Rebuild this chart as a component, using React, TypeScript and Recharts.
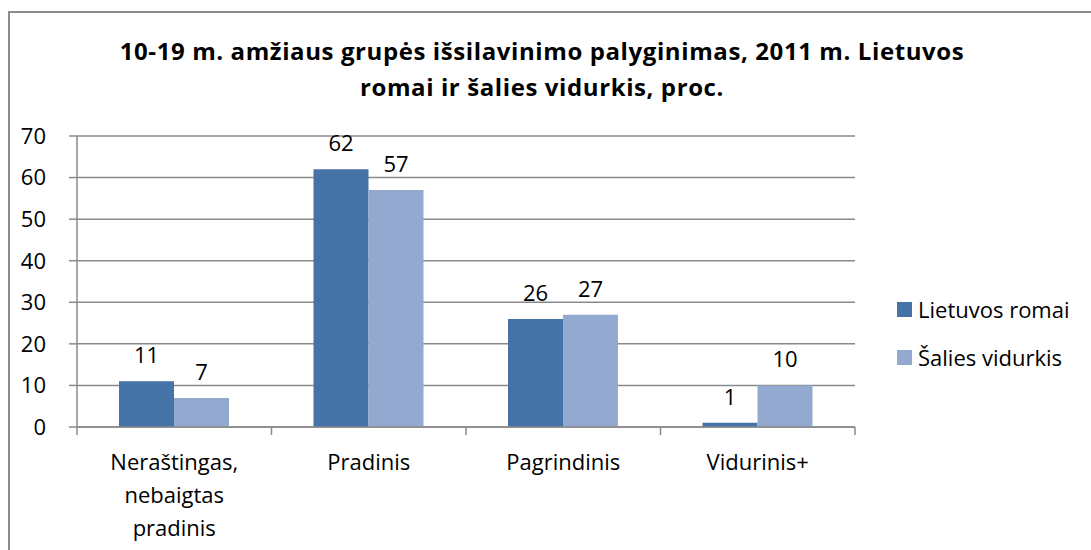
import { Bar, BarChart, CartesianGrid, LabelList, XAxis, YAxis } from 'recharts'

const categories = ['Neraštingas,\nnebaigtas\npradinis', 'Pradinis', 'Pagrindinis', 'Vidurinis+']
const romai = [11, 62, 26, 1]
const vidurkis = [7, 57, 27, 10]
const yTicks = [0, 10, 20, 30, 40, 50, 60, 70]
const titleLines = ['10-19 m. amžiaus grupės išsilavinimo palyginimas, 2011 m. Lietuvos', 'romai ir šalies vidurkis, proc.']

const SERIES = [
  { key: 'romai', name: 'Lietuvos romai', color: '#4572A7' },
  { key: 'vidurkis', name: 'Šalies vidurkis', color: '#93A9CF' },
]

const data = categories.map((c, i) => ({ cat: c, romai: romai[i], vidurkis: vidurkis[i] }))

const FONT = '"Open Sans", sans-serif'
const GRID = '#8a8a8a'

// category axis: Excel-style tick marks sit between categories, not under them
function CatTick(props: any) {
  const { x, y, payload, index } = props
  const half = payload.offset ?? 0
  const lines = String(payload.value).split('\n')
  return (
    <g>
      <line x1={x - half} x2={x - half} y1={y} y2={y + 8} stroke={GRID} strokeWidth={1.5} />
      {index === categories.length - 1 && (
        <line x1={x + half} x2={x + half} y1={y} y2={y + 8} stroke={GRID} strokeWidth={1.5} />
      )}
      {lines.map((l, i) => (
        <text key={i} x={x} y={y + 43 + i * 33} textAnchor="middle" fontSize={22} fill="#000" fontFamily={FONT}>
          {l}
        </text>
      ))}
    </g>
  )
}

export default function App() {
  return (
    <div style={{ position: 'absolute', left: 0, top: 0, width: 1091, height: 550, overflow: 'hidden', background: '#fff' }}>
      <div
        style={{
          position: 'absolute',
          left: 8,
          top: 11,
          width: 1100,
          height: 600,
          border: '2px solid #8c8c8c',
          boxSizing: 'border-box',
        }}
      />
      <svg width={1091} height={120} style={{ position: 'absolute', left: 0, top: 0 }}>
        {titleLines.map((t, i) => (
          <text
            key={i}
            x={542}
            y={60 + i * 36}
            textAnchor="middle"
            fontFamily={FONT}
            fontWeight={700}
            fontSize={24}
            letterSpacing={0.6}
            fill="#000"
          >
            {t}
          </text>
        ))}
      </svg>
      <div style={{ position: 'absolute', left: 897, top: 285, fontFamily: FONT, fontSize: 22, color: '#000' }}>
        {SERIES.map((s) => (
          <div key={s.key} style={{ display: 'flex', alignItems: 'center', height: 48, whiteSpace: 'nowrap' }}>
            <span style={{ width: 15, height: 15, background: s.color, marginRight: 6, display: 'inline-block' }} />
            {s.name}
          </div>
        ))}
      </div>
      <div style={{ position: 'absolute', left: 0, top: 0 }}>
        <BarChart
          width={1091}
          height={550}
          data={data}
          margin={{ top: 136, right: 236, left: 17, bottom: 0 }}
          barCategoryGap={42}
          barGap={0}
        >
          <CartesianGrid vertical={false} stroke={GRID} strokeWidth={1.5} />
          <XAxis
            dataKey="cat"
            height={123}
            interval={0}
            tickSize={0}
            tickMargin={0}
            tickLine={false}
            axisLine={{ stroke: GRID, strokeWidth: 1.5 }}
            tick={<CatTick />}
          />
          <YAxis
            width={60}
            domain={[0, 70]}
            ticks={yTicks}
            interval={0}
            tickSize={8}
            tickMargin={23}
            tickLine={{ stroke: GRID, strokeWidth: 1.5 }}
            axisLine={{ stroke: GRID, strokeWidth: 1.5 }}
            tick={{ fontSize: 22, fill: '#000', fontFamily: FONT }}
          />
          {SERIES.map((s) => (
            <Bar key={s.key} dataKey={s.key} name={s.name} fill={s.color} isAnimationActive={false}>
              <LabelList
                dataKey={s.key}
                position="top"
                offset={18}
                style={{ fontSize: 22, fill: '#000', fontFamily: FONT }}
              />
            </Bar>
          ))}
        </BarChart>
      </div>
    </div>
  )
}
